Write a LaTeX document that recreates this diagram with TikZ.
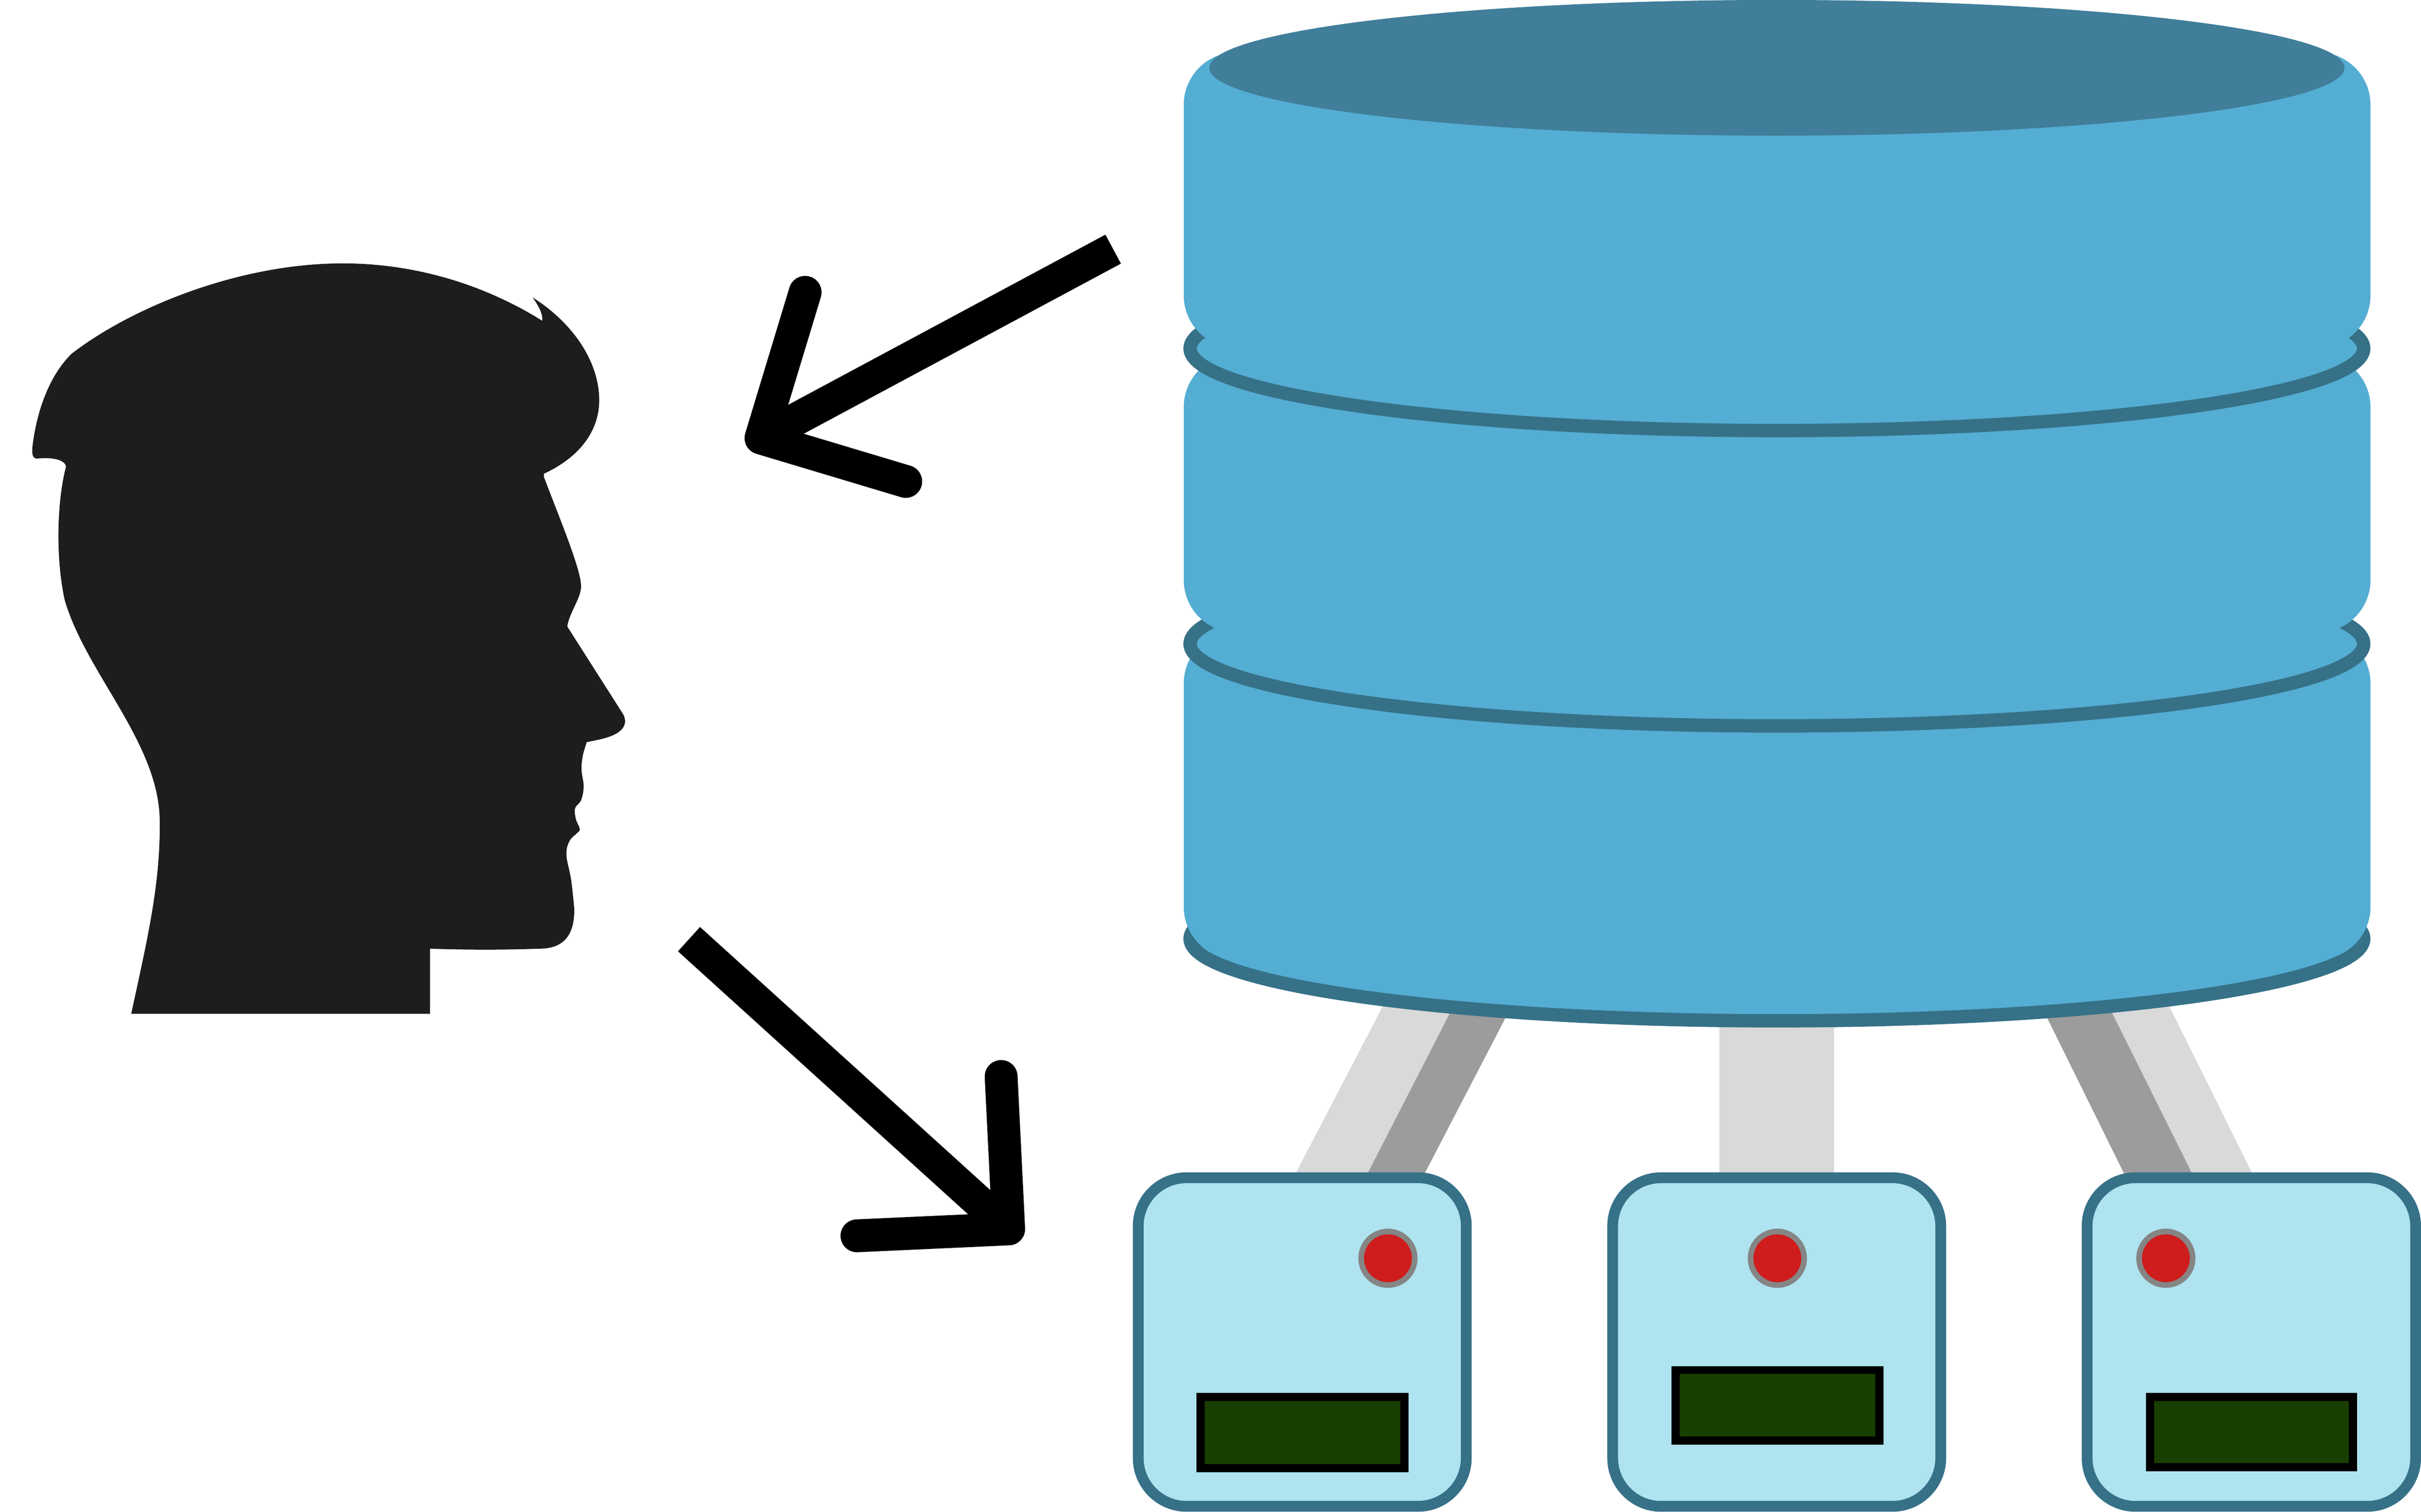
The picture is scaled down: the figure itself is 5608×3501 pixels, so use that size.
\documentclass[tikz,border=0pt]{standalone}
\definecolor{cylblue}{HTML}{54ADD2}
\definecolor{cyltop}{HTML}{407E9A}
\definecolor{rim}{HTML}{367188}
\definecolor{cardfill}{HTML}{AEE3EF}
\definecolor{ledred}{HTML}{CF1C1C}
\definecolor{ledrim}{HTML}{858585}
\definecolor{screen}{HTML}{193F00}
\definecolor{strutlight}{HTML}{D9D9D9}
\definecolor{strutdark}{HTML}{9C9C9C}
\definecolor{manblack}{HTML}{1D1D1B}
\tikzset{
  block/.style={fill=cylblue,draw=none,rounded corners=1.22cm},
  ringed/.style={fill=cylblue,draw=rim,line width=0.31cm},
  card/.style={fill=cardfill,draw=rim,line width=0.25cm,rounded corners=1.12cm},
  led/.style={fill=ledred,draw=ledrim,line width=0.13cm},
  lcd/.style={fill=screen,draw=black,line width=0.19cm},
  shaft/.style={draw=black,line width=0.76cm},
  barbs/.style={draw=black,line width=0.76cm,line cap=round,line join=round},
  man/.style={fill=manblack,draw=none}
}
\begin{document}
\begin{tikzpicture}[x=0.01cm,y=-0.01cm]
\useasboundingbox (0,0) rectangle (5608,3501);
% struts
\fill[strutlight] (2979,2760) -- (3245,2250) -- (3408,2250) -- (3146,2760) -- cycle;
\fill[strutdark] (3146,2760) -- (3408,2250) -- (3543,2250) -- (3278,2760) -- cycle;
\fill[strutlight] (3983,2250) rectangle (4249,2760);
\fill[strutdark] (4689,2250) -- (4845,2250) -- (5099,2760) -- (4941,2760) -- cycle;
\fill[strutlight] (4845,2250) -- (4985,2250) -- (5238,2760) -- (5099,2760) -- cycle;
% cylinder, bottom to top
\draw[ringed] (4116,2174) ellipse [x radius=13.585cm,y radius=1.90cm];
\fill[block] (2742,1461) rectangle (5491,2222);
\draw[ringed] (4116,1491) ellipse [x radius=13.585cm,y radius=1.90cm];
\fill[block] (2742,821) rectangle (5491,1465);
\draw[ringed] (4116,807) ellipse [x radius=13.585cm,y radius=1.90cm];
\fill[block] (2742,121) rectangle (5491,806);
\fill[cyltop] (4116,157) ellipse [x radius=13.14cm,y radius=1.57cm];
% cards
\draw[card] (2636.5,2727.5) rectangle (3396.5,3488.5);
\draw[led] (3215,2914) circle [radius=0.62cm];
\draw[lcd] (2781,3235) rectangle (3253,3400);
\draw[card] (3735.5,2727.5) rectangle (4495.5,3488.5);
\draw[led] (4117,2914) circle [radius=0.62cm];
\draw[lcd] (3881,3173) rectangle (4353,3336);
\draw[card] (4834.5,2727.5) rectangle (5595.5,3488.5);
\draw[led] (5017,2914) circle [radius=0.62cm];
\draw[lcd] (4980.5,3235) rectangle (5450.5,3398);
% arrows
\coordinate (dbout) at (2578.5,577);
\coordinate (ear) at (1762.7,1014.5);
\coordinate (earbarbA) at (1865,677);
\coordinate (earbarbB) at (2098,1115);
\coordinate (mouth) at (1596,2175);
\coordinate (devin) at (2336.5,2846);
\coordinate (devbarbA) at (2319,2493);
\coordinate (devbarbB) at (1985,2862);
\draw[shaft] (dbout) -- (ear);
\draw[barbs] (earbarbA) -- (ear) -- (earbarbB);
\draw[shaft] (mouth) -- (devin);
\draw[barbs] (devbarbA) -- (devin) -- (devbarbB);
% head silhouette
\fill[man] (153,1080)
  .. controls (150,1066) and (125,1058) .. (86,1062)
  .. controls (74,1062) and (74,1048) .. (75,1036)
  .. controls (85,950) and (115,870) .. (165,820)
  .. controls (300,715) and (550,610) .. (794,610)
  .. controls (980,610) and (1140,670) .. (1256,743)
  .. controls (1258,725) and (1245,705) .. (1234,689)
  .. controls (1330,750) and (1388,840) .. (1388,927)
  .. controls (1388,1000) and (1340,1060) .. (1260,1097)
  -- (1260,1105)
  .. controls (1300,1210) and (1346,1320) .. (1346,1358)
  .. controls (1346,1385) and (1318,1420) .. (1314,1451)
  -- (1444,1655)
  .. controls (1456,1680) and (1440,1700) .. (1395,1711)
  .. controls (1380,1715) and (1365,1717) .. (1359,1719)
  -- plot[smooth,tension=0.6] coordinates {(1359,1719) (1350,1750) (1347,1783) (1352,1821) (1346,1853) (1332,1872) (1334,1897) (1343,1920) (1337,1929) (1319,1948) (1312,1980) (1323,2038) (1330,2102)}
  .. controls (1332,2160) and (1310,2197) .. (1250,2197)
  .. controls (1170,2200) and (1080,2200) .. (996,2197)
  -- (996,2348) -- (304,2348)
  .. controls (340,2180) and (372,2050) .. (370,1900)
  .. controls (368,1720) and (200,1560) .. (150,1390)
  .. controls (130,1300) and (130,1170) .. (153,1080)
  -- cycle;
\end{tikzpicture}
\end{document}
